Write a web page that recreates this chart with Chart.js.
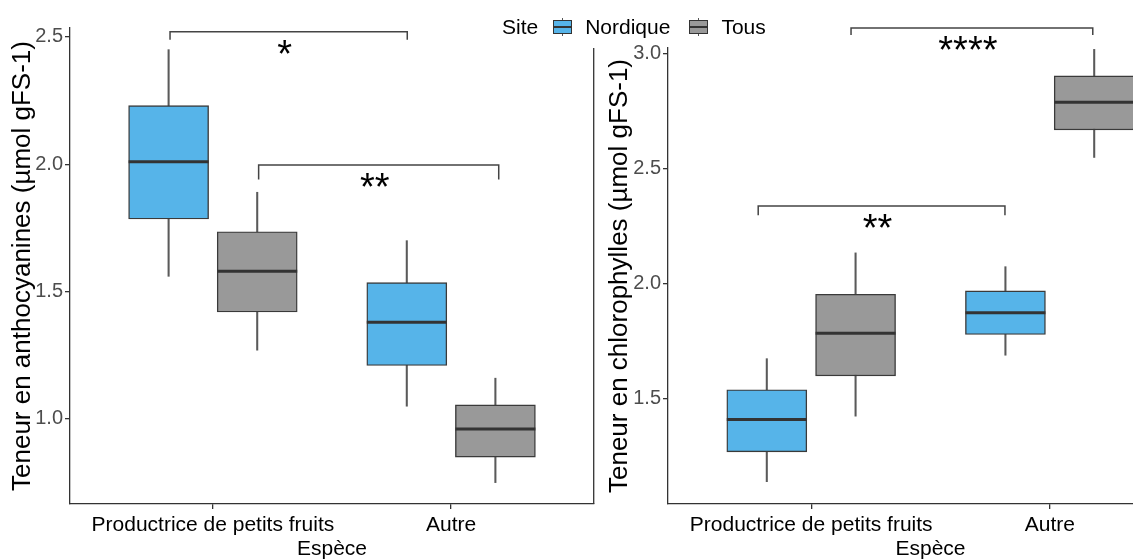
<!DOCTYPE html>
<html lang="fr">
<head>
<meta charset="UTF-8">
<title>Anthocyanines et chlorophylles selon l'espèce</title>
<script src="https://cdn.jsdelivr.net/npm/chart.js@4.4.0/dist/chart.umd.min.js"></script>
<style>
  body { margin: 0; width: 1133px; height: 560px; overflow: hidden; background: #fff; position: relative;
         font-family: "Liberation Sans", Arial, sans-serif; }
  #left { position: absolute; left: 0; top: 0; width: 600px; height: 560px; }
  #right { position: absolute; left: 593px; top: 0; width: 607px; height: 560px; }
  #legend { position: absolute; left: 502px; top: 14px; display: flex; align-items: center;
            font-size: 21px; line-height: 26px; color: #000; white-space: nowrap; }
  .key { position: relative; display: inline-block; width: 19px; height: 18px; margin: 0 14px 0 15px; }
  .key .wh { position: absolute; left: 9px; top: 0; width: 1px; height: 18px; background: #555; }
  .key .box { position: absolute; left: 0; top: 2px; width: 17px; height: 12px; border: 1px solid #333; }
  .key .med { position: absolute; left: 1px; top: 8px; width: 17px; height: 2px; background: #333; }
</style>
</head>
<body>
<div id="left"><canvas id="anthoChart"></canvas></div>
<div id="right"><canvas id="chloroChart"></canvas></div>
<div id="legend"><span>Site</span></div>

<script>
  const especes = ['Productrice de petits fruits', 'Autre'];
  const sites = ['Nordique', 'Tous'];
  const siteColors = ['#56B4E9', '#999999'];

  // [min, q1, médiane, q3, max] for each espèce
  const anthoNordique = [[1.56, 1.785, 2.01, 2.23, 2.45], [1.05, 1.21, 1.38, 1.535, 1.70]];
  const anthoTous = [[1.27, 1.42, 1.58, 1.735, 1.89], [0.75, 0.85, 0.96, 1.055, 1.16]];
  const chloroNordique = [[1.14, 1.27, 1.41, 1.54, 1.675], [1.69, 1.78, 1.875, 1.97, 2.075]];
  const chloroTous = [[1.425, 1.60, 1.785, 1.955, 2.135], [2.55, 2.67, 2.79, 2.905, 3.02]];

  const anthoTicks = [1.0, 1.5, 2.0, 2.5];
  const chloroTicks = [1.5, 2.0, 2.5, 3.0];

  // significance brackets (x in espèce units, y in axis units)
  const anthoBrackets = [
    { from: 0.82, to: 1.816, y: 2.52, tip: 0.031, label: '*' },
    { from: 1.192, to: 2.2, y: 1.997, tip: 0.057, label: '**' }
  ];
  const chloroBrackets = [
    { from: 1.167, to: 2.18, y: 3.113, tip: 0.03, label: '****' },
    { from: 0.778, to: 1.812, y: 2.339, tip: 0.04, label: '**' }
  ];

  const DODGE = 0.186;
  const BOX_PX = 80;
  const FONT = '"Liberation Sans", Arial, sans-serif';

  // legend built from the same site names and fills
  const legend = document.getElementById('legend');
  sites.forEach((s, i) => {
    const key = document.createElement('span');
    key.className = 'key';
    key.innerHTML = '<span class="wh"></span><span class="box" style="background:' + siteColors[i] + '"></span><span class="med"></span>';
    if (i > 0) key.style.marginLeft = '19px';
    key.style.marginRight = '13px';
    const txt = document.createElement('span');
    txt.textContent = s;
    legend.appendChild(key);
    legend.appendChild(txt);
  });

  function boxDatasets(series) {
    const sets = [];
    series.forEach((stats, s) => {
      const xs = stats.map((_, i) => i + 1 + (s === 0 ? -DODGE : DODGE));
      // whiskers
      sets.push({
        type: 'bar', grouped: false, order: 3,
        data: stats.map((d, i) => ({ x: xs[i], y: [d[0], d[4]] })),
        backgroundColor: '#5a5a5a', borderWidth: 0, barThickness: 1.4
      });
      // boxes
      sets.push({
        type: 'bar', grouped: false, order: 2, label: sites[s],
        data: stats.map((d, i) => ({ x: xs[i], y: [d[1], d[3]] })),
        backgroundColor: siteColors[s], borderColor: '#3a3a3a', borderWidth: 1.4,
        borderSkipped: false, barThickness: BOX_PX
      });
      // medians
      sets.push({
        type: 'scatter', order: 1,
        data: stats.map((d, i) => ({ x: xs[i], y: d[2] })),
        pointStyle: 'line', pointRadius: BOX_PX / 2, pointHoverRadius: BOX_PX / 2,
        borderColor: '#333', pointBorderWidth: 3, borderWidth: 3
      });
    });
    return sets;
  }

  const bracketPlugin = {
    id: 'brackets',
    afterDatasetsDraw(chart, args, opts) {
      const { ctx, chartArea } = chart;
      const x = chart.scales.x, y = chart.scales.y;
      ctx.save();
      if (opts.edge) {
        ctx.strokeStyle = '#333';
        ctx.lineWidth = 1.3;
        ctx.beginPath();
        ctx.moveTo(0.7, chartArea.top);
        ctx.lineTo(0.7, chartArea.bottom);
        ctx.stroke();
      }
      ctx.strokeStyle = '#444';
      ctx.lineWidth = 1.5;
      ctx.fillStyle = '#000';
      ctx.font = '38px ' + FONT;
      ctx.textAlign = 'center';
      opts.items.forEach(b => {
        const x1 = x.getPixelForValue(b.from), x2 = x.getPixelForValue(b.to);
        const yb = y.getPixelForValue(b.y), yt = y.getPixelForValue(b.y - b.tip);
        ctx.beginPath();
        ctx.moveTo(x1, yt);
        ctx.lineTo(x1, yb);
        ctx.lineTo(x2, yb);
        ctx.lineTo(x2, yt);
        ctx.stroke();
        ctx.fillText(b.label, (x1 + x2) / 2 - 4, yb + 35);
      });
      ctx.restore();
    }
  };

  function makeChart(id, series, o) {
    return new Chart(document.getElementById(id), {
      type: 'bar',
      data: { datasets: boxDatasets(series) },
      plugins: [bracketPlugin],
      options: {
        responsive: true,
        maintainAspectRatio: false,
        animation: false,
        events: [],
        layout: { padding: o.padding, autoPadding: false },
        plugins: {
          legend: { display: false },
          tooltip: { enabled: false },
          brackets: { items: o.brackets, edge: o.edge }
        },
        scales: {
          x: {
            type: 'linear', min: 0.4, max: 2.6, offset: false,
            afterBuildTicks: s => { s.ticks = especes.map((_, i) => ({ value: i + 1 })); },
            afterFit: s => { s.height = 56; },
            ticks: {
              callback: v => especes[v - 1], autoSkip: false, maxRotation: 0,
              color: '#000', font: { family: FONT, size: 21 }, padding: 4
            },
            grid: { drawOnChartArea: false, offset: false, tickLength: 5, color: '#333', lineWidth: 1.3 },
            border: { display: true, color: '#333', width: 1.3 },
            title: {
              display: true, text: 'Espèce', color: '#000',
              font: { family: FONT, size: 21, lineHeight: 1 }, padding: { top: 0, bottom: 0 }
            }
          },
          y: {
            min: o.yMin, max: o.yMax,
            afterBuildTicks: s => { s.ticks = o.ticks.map(v => ({ value: v })); },
            afterFit: s => { s.width = o.yWidth; },
            ticks: {
              callback: v => v.toFixed(1), color: '#4d4d4d',
              font: { family: FONT, size: 20 }, padding: 2
            },
            grid: { drawOnChartArea: false, tickLength: 5, color: '#333', lineWidth: 1.3 },
            border: { display: true, color: '#333', width: 1.3 },
            title: {
              display: true, text: o.title, color: '#000',
              font: { family: FONT, size: 26, lineHeight: 1 }, padding: { top: o.titlePad, bottom: 0 }
            }
          }
        }
      }
    });
  }

  makeChart('anthoChart', [anthoNordique, anthoTous], {
    title: 'Teneur en anthocyanines (µmol gFS-1)',
    ticks: anthoTicks, yMin: 0.666, yMax: 2.535,
    brackets: anthoBrackets, edge: false,
    yWidth: 70, titlePad: 10,
    padding: { top: 28, right: 6, bottom: 0, left: 0 }
  });

  makeChart('chloroChart', [chloroNordique, chloroTous], {
    title: 'Teneur en chlorophylles (µmol gFS-1)',
    ticks: chloroTicks, yMin: 1.043, yMax: 3.026,
    brackets: chloroBrackets, edge: true,
    yWidth: 75, titlePad: 14,
    padding: { top: 48, right: 7, bottom: 0, left: 0 }
  });
</script>
</body>
</html>
